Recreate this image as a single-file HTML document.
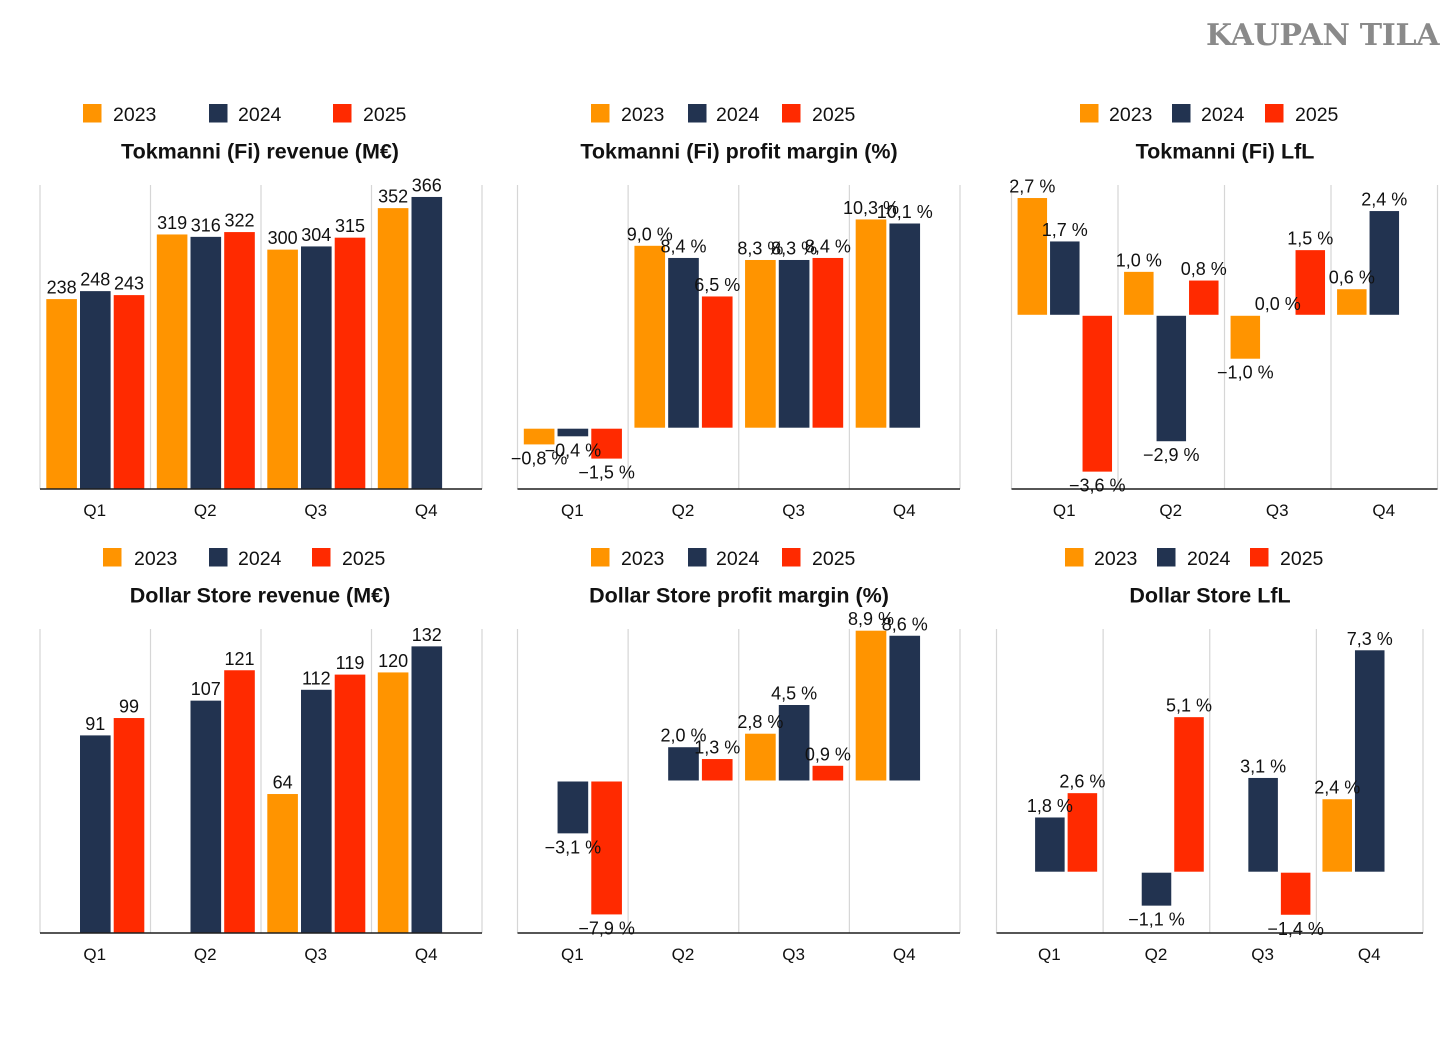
<!DOCTYPE html>
<html lang="en">
<head>
<meta charset="utf-8">
<title>Tokmanni and Dollar Store quarterly charts</title>
<style>
html,body{margin:0;padding:0;background:#fff;}
body{width:1456px;height:1041px;overflow:hidden;}
svg{display:block;font-family:"Liberation Sans",Arial,sans-serif;}
.legend-text{font-size:19.5px;fill:#111;}
.title{font-size:21.5px;font-weight:bold;fill:#111;text-anchor:middle;}
.tick{font-size:17px;fill:#111;text-anchor:middle;}
.value{font-size:18px;fill:#111;text-anchor:middle;}
.brand{font-family:"DejaVu Serif","Liberation Serif",serif;font-weight:bold;font-size:30px;letter-spacing:-0.3px;fill:#8a8a8a;}
</style>
</head>
<body>
<svg id="root" xmlns="http://www.w3.org/2000/svg" width="1456" height="1041" viewBox="0 0 1456 1041">
  <rect width="1456" height="1041" fill="#ffffff"/>
  <text class="brand" x="1206" y="45">KAUPAN TILA</text>
</svg>
<script>
// ---- Shared categories ----
const quarters = ["Q1", "Q2", "Q3", "Q4"];
const years = ["2023", "2024", "2025"];
const yearColors = ["#ff9400", "#223350", "#ff2a00"];

// ---- Tokmanni (Fi) revenue (M€) ----
const tokmanniRevenue2023 = [238, 319, 300, 352];
const tokmanniRevenue2024 = [248, 316, 304, 366];
const tokmanniRevenue2025 = [243, 322, 315, null];

// ---- Tokmanni (Fi) profit margin (%) ----
const tokmanniMargin2023 = [-0.8, 9.0, 8.3, 10.3];
const tokmanniMargin2024 = [-0.4, 8.4, 8.3, 10.1];
const tokmanniMargin2025 = [-1.5, 6.5, 8.4, null];

// ---- Tokmanni (Fi) LfL ----
const tokmanniLfl2023 = [2.7, 1.0, -1.0, 0.6];
const tokmanniLfl2024 = [1.7, -2.9, 0.0, 2.4];
const tokmanniLfl2025 = [-3.6, 0.8, 1.5, null];

// ---- Dollar Store revenue (M€) ----
const dollarRevenue2023 = [null, null, 64, 120];
const dollarRevenue2024 = [91, 107, 112, 132];
const dollarRevenue2025 = [99, 121, 119, null];

// ---- Dollar Store profit margin (%) ----
const dollarMargin2023 = [null, null, 2.8, 8.9];
const dollarMargin2024 = [-3.1, 2.0, 4.5, 8.6];
const dollarMargin2025 = [-7.9, 1.3, 0.9, null];

// ---- Dollar Store LfL ----
const dollarLfl2023 = [null, null, null, 2.4];
const dollarLfl2024 = [1.8, -1.1, 3.1, 7.3];
const dollarLfl2025 = [2.6, 5.1, -1.4, null];

// ---- Value axis domains ----
const tokmanniRevenueDomain = [0, 381];
const tokmanniMarginDomain = [-3, 12];
const tokmanniLflDomain = [-4, 3];
const dollarRevenueDomain = [0, 140];
const dollarMarginDomain = [-9, 9];
const dollarLflDomain = [-2, 8];

// ---- Layout ----
const panels = [
  {id:"tokmanni-revenue", title:"Tokmanni (Fi) revenue (M€)", series:[tokmanniRevenue2023,tokmanniRevenue2024,tokmanniRevenue2025], domain:tokmanniRevenueDomain, pct:false,
   left:40, right:482, top:185, bottom:489, titleX:260, titleY:158.5, legendY:104, legendX:[[83,113],[209,238],[333,363]]},
  {id:"tokmanni-margin", title:"Tokmanni (Fi) profit margin (%)", series:[tokmanniMargin2023,tokmanniMargin2024,tokmanniMargin2025], domain:tokmanniMarginDomain, pct:true,
   left:517.5, right:960, top:185, bottom:489, titleX:739, titleY:158.5, legendY:104, legendX:[[591,621],[688,716],[782,812]]},
  {id:"tokmanni-lfl", title:"Tokmanni (Fi) LfL", series:[tokmanniLfl2023,tokmanniLfl2024,tokmanniLfl2025], domain:tokmanniLflDomain, pct:true,
   left:1011.5, right:1437.5, top:185, bottom:489, titleX:1225, titleY:158.5, legendY:104, legendX:[[1080,1109],[1172,1201],[1265,1295]]},
  {id:"dollar-revenue", title:"Dollar Store revenue (M€)", series:[dollarRevenue2023,dollarRevenue2024,dollarRevenue2025], domain:dollarRevenueDomain, pct:false,
   left:40, right:482, top:629, bottom:933, titleX:260, titleY:602.5, legendY:548, legendX:[[103,134],[209,238],[312,342]]},
  {id:"dollar-margin", title:"Dollar Store profit margin (%)", series:[dollarMargin2023,dollarMargin2024,dollarMargin2025], domain:dollarMarginDomain, pct:true,
   left:517.5, right:960, top:629, bottom:933, titleX:739, titleY:602.5, legendY:548, legendX:[[591,621],[688,716],[782,812]]},
  {id:"dollar-lfl", title:"Dollar Store LfL", series:[dollarLfl2023,dollarLfl2024,dollarLfl2025], domain:dollarLflDomain, pct:true,
   left:996.5, right:1423, top:629, bottom:933, titleX:1210, titleY:602.5, legendY:548, legendX:[[1065,1094],[1157,1187],[1250,1280]]}
];

const SVG_NS = "http://www.w3.org/2000/svg";
const root = document.getElementById("root");

function make(tag, parent, props, text) {
  const el = document.createElementNS(SVG_NS, tag);
  for (const key in props) { el.setAttribute(key, props[key]); }
  if (text !== undefined) { el.textContent = text; }
  parent.appendChild(el);
  return el;
}

function formatValue(v, pct) {
  if (!pct) { return String(v); }
  const s = Math.abs(v).toFixed(1).replace(".", ",") + " %";
  return v < 0 ? "\u2212" + s : s;
}

function drawPanel(p) {
  const group = make("g", root, {});
  
  

  const band = (p.right - p.left) / quarters.length;
  const xBand = i => p.left + band * i;
  const xBar = (i, s) => xBand(i) + band * 0.057 + band * 0.305 * s;
  const barWidth = band * 0.277;
  const yScale = v => p.bottom - (v - p.domain[0]) / (p.domain[1] - p.domain[0]) * (p.bottom - p.top);
  const zero = yScale(0);

  // legend
  years.forEach((year, s) => {
    const swatch = make("rect", group, {x:p.legendX[s][0], y:p.legendY, width:18.5, height:18.5, fill:yearColors[s]});
    
    
    const label = make("text", group, {x:p.legendX[s][1], y:p.legendY + 17, "class":"legend-text"}, year);
    
    
  });

  // title
  const title = make("text", group, {x:p.titleX, y:p.titleY, "class":"title"}, p.title);
  
  

  // gridlines
  for (let i = 0; i <= quarters.length; i++) {
    const grid = make("line", group, {x1:xBand(i), x2:xBand(i), y1:p.top, y2:p.bottom, stroke:"#d6d6d6", "stroke-width":1.2});
    
    
  }

  // bars
  p.series.forEach((values, s) => {
    values.forEach((v, i) => {
      if (v === null || v === 0) { return; }
      const y0 = v > 0 ? yScale(v) : zero + 0.5;
      const y1 = v > 0 ? zero - 0.5 : yScale(v);
      const bar = make("rect", group, {x:xBar(i, s), y:y0, width:barWidth, height:y1 - y0, fill:yearColors[s]});
      
      
    });
  });

  // baseline
  const axis = make("line", group, {x1:p.left, x2:p.right, y1:p.bottom, y2:p.bottom, stroke:"#1f1f1f", "stroke-width":1.6});
  
  

  // category ticks
  quarters.forEach((q, i) => {
    const tick = make("text", group, {x:xBand(i) + band / 2 - 0.5, y:p.bottom + 27, "class":"tick"}, q);
    
    
  });

  // value labels on top of all bars
  p.series.forEach((values, s) => {
    values.forEach((v, i) => {
      if (v === null) { return; }
      const cx = xBar(i, s) + barWidth / 2;
      const ly = v >= 0 ? yScale(v) - 5.5 : yScale(v) + 20;
      const label = make("text", group, {x:cx, y:ly, "class":"value"}, formatValue(v, p.pct));
      
      
    });
  });
}

panels.forEach(drawPanel);
</script>
</body>
</html>
